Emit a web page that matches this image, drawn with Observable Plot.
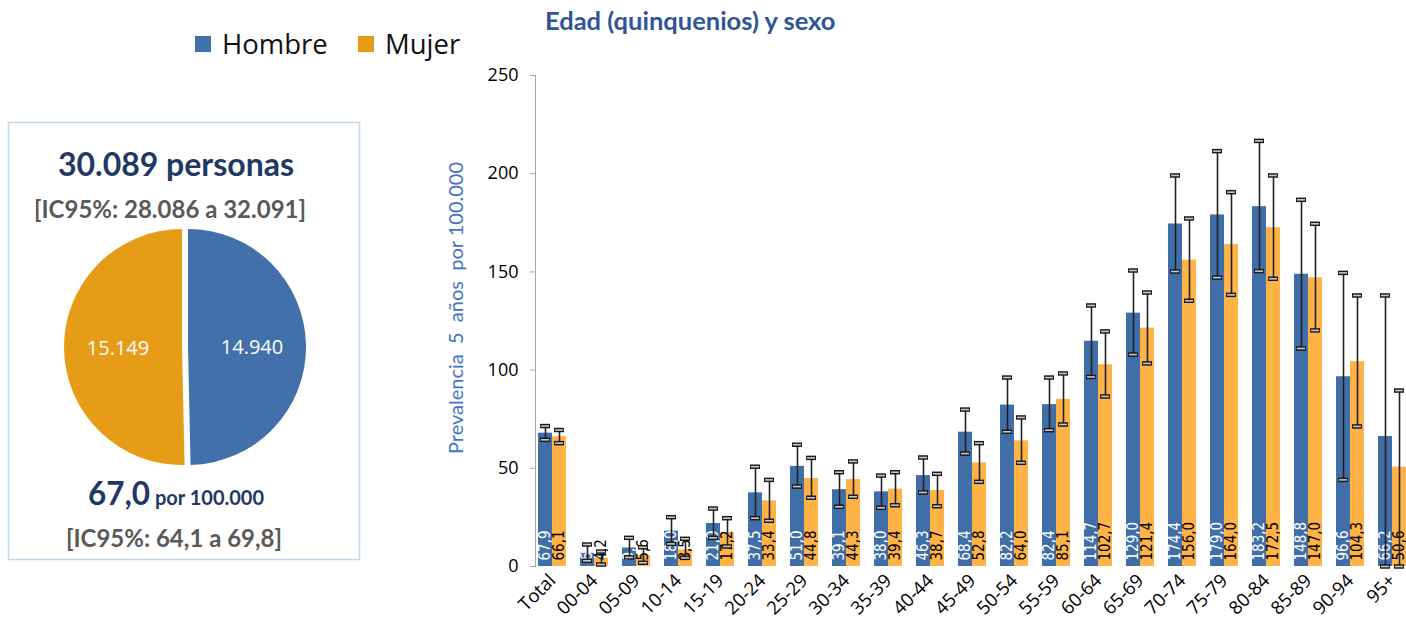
<!DOCTYPE html>
<html><head><meta charset="utf-8">
<script src="https://cdn.jsdelivr.net/npm/d3@7"></script>
<script src="https://cdn.jsdelivr.net/npm/@observablehq/plot@0.6"></script>
<style>
body{margin:0;background:#fff;width:1406px;height:626px;overflow:hidden;position:relative;font-family:"Open Sans",sans-serif}
#chart{position:absolute;left:440px;top:0}
#left{position:absolute;left:0;top:0}
#title{position:absolute;left:545px;top:5px;font:bold 25.5px Lato;color:#2F5597;white-space:nowrap}
svg text{white-space:pre}
</style></head><body>
<div id="left"></div>
<div id="chart"></div>
<div id="title">Edad (quinquenios) y sexo</div>
<script>
const cats = ["Total","00-04","05-09","10-14","15-19","20-24","25-29","30-34","35-39","40-44","45-49","50-54","55-59","60-64","65-69","70-74","75-79","80-84","85-89","90-94","95+"];
const hombre   = [67.9, 6.7, 9.4, 18.0, 21.9, 37.5, 51.0, 39.1, 38.0, 46.3, 68.4, 82.2, 82.4, 114.7, 129.0, 174.4, 179.0, 183.2, 148.8, 96.6, 66.2];
const hombreLo = [64.5, 2.9, 4.6, 11.5, 14.6, 24.6, 40.7, 30.4, 29.9, 37.7, 57.5, 68.6, 69.4, 96.5, 107.9, 150.2, 147.1, 150.4, 111.0, 44.1, 0];
const hombreHi = [71.5, 11.2, 14.6, 25.1, 29.5, 50.8, 62.0, 48.0, 46.3, 55.5, 79.9, 96.2, 96.2, 132.9, 150.7, 199.1, 211.5, 216.7, 186.7, 149.5, 138.0];
const mujer    = [66.1, 4.2, 5.6, 8.5, 17.2, 33.4, 44.8, 44.3, 39.4, 38.7, 52.8, 64.0, 85.1, 102.7, 121.4, 156.0, 164.0, 172.5, 147.0, 104.3, 50.6];
const mujerLo  = [62.8, 1.0, 1.9, 4.4, 10.2, 23.3, 35.0, 35.5, 31.2, 30.7, 43.1, 52.8, 72.3, 86.6, 103.4, 135.3, 138.3, 146.5, 120.2, 71.3, 0];
const mujerHi  = [69.5, 7.6, 9.8, 14.1, 24.6, 44.1, 55.3, 53.5, 48.0, 47.2, 62.8, 75.9, 98.3, 119.7, 139.5, 177.2, 190.6, 199.1, 174.5, 138.0, 89.6];
const yTicks = [0, 50, 100, 150, 200, 250];
const pieLabels = ["Hombre", "Mujer"];
const pieValues = [14940, 15149];

const BLUE = "#3F6EA9", ORANGE = "#FFB347", PIE_BLUE = "#4170AA", PIE_ORANGE = "#E69C17";
const NARROW = "'Liberation Sans Narrow','DejaVu Sans Condensed',sans-serif";
const fmt = v => v.toFixed(1).replace(".", ",");

const rows = cats.map((c, i) => ({cat: c, h: hombre[i], hLo: hombreLo[i], hHi: hombreHi[i], m: mujer[i], mLo: mujerLo[i], mHi: mujerHi[i]}));

const capMarks = (key, left, right) => [
  Plot.tickY(rows, {x: "cat", y: key, insetLeft: left, insetRight: right, stroke: "#1a1a1a", strokeWidth: 4.5}),
  Plot.tickY(rows, {x: "cat", y: key, insetLeft: left + 1, insetRight: right + 1, stroke: "#c8c8c8", strokeWidth: 1.6})
];

const chart = Plot.plot({
  width: 966, height: 626,
  marginTop: 75, marginBottom: 60, marginLeft: 95, marginRight: 0,
  style: {fontFamily: "'Open Sans', sans-serif", background: "transparent", overflow: "visible", color: "#000"},
  x: {domain: cats, range: [88.9, 974.1], paddingInner: 0.336, paddingOuter: 0.168, label: null},
  y: {domain: [0, 250], label: null},
  marks: [
    Plot.frame({anchor: "left", stroke: "#a6a6a6"}),
    Plot.axisY({ticks: yTicks, tickSize: 5, tickPadding: 12, fontSize: 18, stroke: "#a6a6a6", fill: "#000", label: null}),
    Plot.axisX({tickRotate: -45, tickSize: 0, tickPadding: 11, fontSize: 18.5, fill: "#000", label: null}),
    Plot.barY(rows, {x: "cat", y: "h", fill: BLUE, insetRight: 14}),
    Plot.barY(rows, {x: "cat", y: "m", fill: ORANGE, insetLeft: 14}),
    Plot.text(rows, {x: "cat", y: 0, text: d => fmt(d.h), rotate: -90, textAnchor: "start", dx: -7, dy: -6, fill: "#fff", fontSize: 15, fontFamily: NARROW}),
    Plot.text(rows, {x: "cat", y: 0, text: d => fmt(d.m), rotate: -90, textAnchor: "start", dx: 7, dy: -6, fill: "#000", fontSize: 15, fontFamily: NARROW}),
    Plot.ruleX(rows, {x: "cat", y1: "hLo", y2: "hHi", dx: -7, stroke: "#222", strokeWidth: 1.6}),
    Plot.ruleX(rows, {x: "cat", y1: "mLo", y2: "mHi", dx: 7, stroke: "#222", strokeWidth: 1.6}),
    ...capMarks("hHi", 2, 16), ...capMarks("hLo", 2, 16),
    ...capMarks("mHi", 16, 2), ...capMarks("mLo", 16, 2),
    Plot.text(["Prevalencia  5  años  por 100.000"], {frameAnchor: "left", rotate: -90, textAnchor: "middle", dx: -79, dy: -13, fontSize: 20, fill: "#4472C4", fontFamily: "Lato"})
  ]
});
document.getElementById("chart").appendChild(chart);

// Left panel: legend, box, texts, pie
const L = d3.select("#left").append("svg").attr("width", 500).attr("height", 626).style("overflow", "visible");
const legend = [{k: pieLabels[0], c: PIE_BLUE, x: 195}, {k: pieLabels[1], c: PIE_ORANGE, x: 358}];
legend.forEach(l => {
  L.append("rect").attr("x", l.x).attr("y", 36).attr("width", 16).attr("height", 16).attr("fill", l.c);
  L.append("text").attr("x", l.x + 27).attr("y", 54).attr("font-family", "'Open Sans'").attr("font-size", 27.5).attr("fill", "#111").text(l.k);
});
L.append("rect").attr("x", 8.5).attr("y", 122.5).attr("width", 351).attr("height", 437).attr("fill", "none").attr("stroke", "#BDD7EE").attr("stroke-width", 1.5);
L.append("text").attr("x", 176).attr("y", 176).attr("text-anchor", "middle").attr("font-family", "Lato").attr("font-weight", "bold").attr("font-size", 32).attr("fill", "#1F3864").text("30.089 personas");
L.append("text").attr("x", 170).attr("y", 218).attr("text-anchor", "middle").attr("font-family", "Lato").attr("font-weight", "bold").attr("font-size", 24).attr("fill", "#595959").text("[IC95%: 28.086 a 32.091]");
const t3 = L.append("text").attr("x", 176).attr("y", 505).attr("text-anchor", "middle").attr("font-family", "Lato").attr("font-weight", "bold").attr("fill", "#1F3864");
t3.append("tspan").attr("font-size", 31.5).text("67,0");
t3.append("tspan").attr("font-size", 20).text(" por 100.000");
L.append("text").attr("x", 174).attr("y", 547).attr("text-anchor", "middle").attr("font-family", "Lato").attr("font-weight", "bold").attr("font-size", 24).attr("fill", "#595959").text("[IC95%: 64,1 a 69,8]");

const pieData = pieLabels.map((k, i) => ({k, v: pieValues[i], c: i === 0 ? PIE_BLUE : PIE_ORANGE}));
const arcs = d3.pie().sort(null).value(d => d.v)(pieData);
const arc = d3.arc().innerRadius(0).outerRadius(118);
const labArc = d3.arc().innerRadius(0).outerRadius(128);
const g = L.append("g").attr("transform", "translate(185,347)");
arcs.forEach(a => {
  const mid = (a.startAngle + a.endAngle) / 2;
  const ox = 3 * Math.sin(mid), oy = -3 * Math.cos(mid);
  g.append("path").attr("d", arc(a)).attr("fill", a.data.c).attr("transform", `translate(${ox},${oy})`);
  const [cx, cy] = labArc.centroid(a);
  g.append("text").attr("x", cx + ox).attr("y", cy + oy).attr("text-anchor", "middle").attr("dominant-baseline", "central")
    .attr("font-family", "'Open Sans'").attr("font-size", 20).attr("fill", "#fff").text(d3.format(",")(a.data.v).replace(",", "."));
});
</script>
</body></html>
